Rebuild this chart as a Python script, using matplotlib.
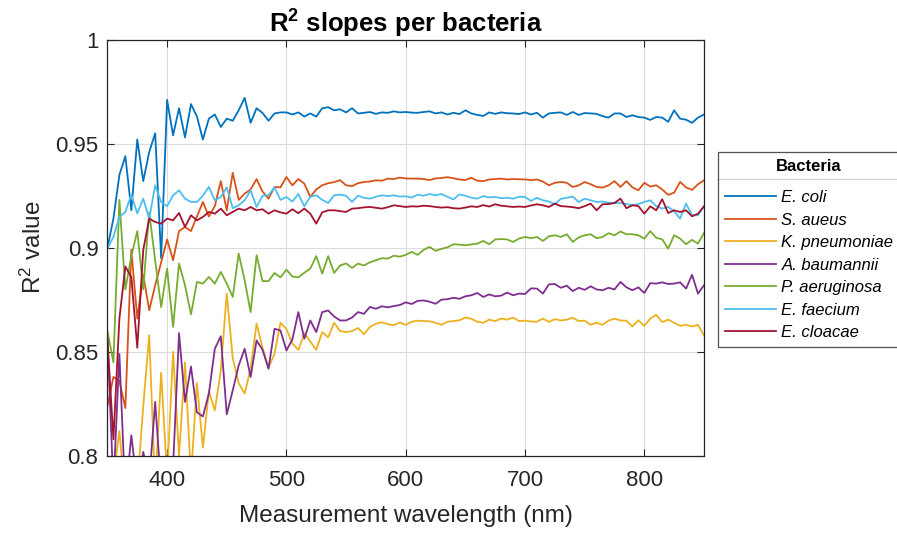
import matplotlib
matplotlib.use("Agg")
import matplotlib.pyplot as plt
import numpy as np
from matplotlib.lines import Line2D
from matplotlib.ticker import FuncFormatter

plt.rcParams["font.family"] = ["Liberation Sans", "DejaVu Sans"]
plt.rcParams["mathtext.fontset"] = "custom"
plt.rcParams["mathtext.rm"] = "Liberation Sans"
plt.rcParams["mathtext.it"] = "Liberation Sans:italic"
plt.rcParams["mathtext.bf"] = "Liberation Sans:bold"

wavelength = np.arange(350, 855, 5)

e_coli = [
    0.900, 0.914, 0.935, 0.944, 0.918, 0.952, 0.932, 0.946, 0.955, 0.895,
    0.971, 0.954, 0.967, 0.953, 0.969, 0.963, 0.952, 0.962, 0.964, 0.958,
    0.962, 0.961, 0.966, 0.972, 0.960, 0.967,
    0.9647, 0.9610, 0.9645, 0.9650, 0.9650, 0.9640, 0.9650, 0.9630, 0.9645, 0.9630,
    0.9670, 0.9675, 0.9660, 0.9665, 0.9650, 0.9670, 0.9645, 0.9648, 0.9652, 0.9643,
    0.9650, 0.9648, 0.9655, 0.9650, 0.9652, 0.9649,
    0.9648, 0.9652, 0.9655, 0.9645, 0.9650, 0.9640, 0.9648, 0.9642, 0.9660, 0.9645,
    0.9638, 0.9633, 0.9650, 0.9643, 0.9650, 0.9646, 0.9645, 0.9642, 0.9650, 0.9640,
    0.9648, 0.9625, 0.9645, 0.9648,
    0.9650, 0.9638, 0.9652, 0.9638, 0.9647, 0.9645, 0.9643, 0.9632, 0.9625, 0.9645,
    0.9645, 0.9628, 0.9636, 0.9628, 0.9625, 0.9614, 0.9628, 0.9625, 0.9605, 0.9660,
    0.9620, 0.9615, 0.9600, 0.9625, 0.9640,
]
s_aureus = [
    0.824, 0.838, 0.836, 0.823, 0.899, 0.866, 0.887, 0.870, 0.882, 0.893,
    0.904, 0.894, 0.908, 0.910, 0.908, 0.915, 0.922, 0.915, 0.920, 0.932,
    0.918, 0.936, 0.923, 0.926, 0.928, 0.933,
    0.927, 0.9236, 0.9292, 0.9290, 0.934, 0.930, 0.933, 0.9308, 0.9244, 0.928,
    0.930, 0.931, 0.9315, 0.9325, 0.930, 0.9296, 0.9310, 0.9316, 0.9318, 0.9324,
    0.9322, 0.9332, 0.9330, 0.9337, 0.9333, 0.9332,
    0.9332, 0.9330, 0.9325, 0.9333, 0.9335, 0.9339, 0.9334, 0.9328, 0.9325, 0.9336,
    0.9322, 0.9320, 0.9328, 0.9330, 0.9332, 0.9328, 0.9330, 0.9329, 0.9328, 0.9325,
    0.9328, 0.9318, 0.9300, 0.9312,
    0.9316, 0.9312, 0.9292, 0.9300, 0.9316, 0.9305, 0.9292, 0.9289, 0.9300, 0.9320,
    0.9292, 0.9320, 0.9290, 0.9276, 0.9312, 0.9294, 0.9300, 0.9280, 0.9254, 0.9265,
    0.9316, 0.9290, 0.9278, 0.9305, 0.9324,
]
k_pneumoniae = [
    0.785, 0.790, 0.812, 0.780, 0.790, 0.785, 0.824, 0.858, 0.785, 0.840,
    0.790, 0.850, 0.800, 0.845, 0.790, 0.835, 0.804, 0.831, 0.822, 0.841,
    0.878, 0.847, 0.835, 0.830, 0.842, 0.8636,
    0.8520, 0.8425, 0.8490, 0.8640, 0.8610, 0.8540, 0.8510, 0.8590, 0.8550, 0.8510,
    0.8595, 0.8570, 0.8640, 0.8600, 0.8595, 0.8600, 0.8615, 0.8585, 0.8620, 0.8635,
    0.8642, 0.8633, 0.8628, 0.8641, 0.8630, 0.8645,
    0.8650, 0.8648, 0.8647, 0.8640, 0.8630, 0.8645, 0.8648, 0.8652, 0.8665, 0.8659,
    0.8645, 0.8640, 0.8655, 0.8648, 0.8660, 0.8655, 0.8665, 0.8648, 0.8650, 0.8646,
    0.8645, 0.8660, 0.8644, 0.8657,
    0.8651, 0.8655, 0.8664, 0.8648, 0.8650, 0.8630, 0.8640, 0.8630, 0.8650, 0.8660,
    0.8651, 0.8650, 0.8622, 0.8652, 0.8625, 0.8660, 0.8678, 0.8643, 0.8655, 0.8640,
    0.8625, 0.8630, 0.8622, 0.8630, 0.8579,
]
a_baumannii = [
    0.856, 0.785, 0.849, 0.780, 0.810, 0.785, 0.802, 0.788, 0.826, 0.785,
    0.800, 0.795, 0.859, 0.826, 0.843, 0.821, 0.819, 0.830, 0.8515, 0.8575,
    0.820, 0.8315, 0.8435, 0.8515, 0.838, 0.8555,
    0.8510, 0.8419, 0.8611, 0.8603, 0.8507, 0.8560, 0.8691, 0.8563, 0.8651, 0.8595,
    0.8691, 0.8699, 0.8670, 0.8651, 0.8651, 0.8665, 0.8691, 0.8683, 0.8716, 0.8707,
    0.8719, 0.8714, 0.8720, 0.8725, 0.8738, 0.8730,
    0.8745, 0.8747, 0.8741, 0.8731, 0.8751, 0.8753, 0.8760, 0.8755, 0.8767, 0.8772,
    0.8783, 0.8764, 0.8776, 0.8767, 0.8770, 0.8785, 0.8772, 0.8780, 0.8778, 0.8805,
    0.8804, 0.8780, 0.8824, 0.8826,
    0.8808, 0.8818, 0.8792, 0.8808, 0.8798, 0.8815, 0.8800, 0.8796, 0.8808, 0.8800,
    0.8836, 0.8810, 0.8796, 0.8810, 0.8783, 0.8830, 0.8828, 0.8834, 0.8826, 0.8828,
    0.8834, 0.8804, 0.8870, 0.8780, 0.8820,
]
p_aeruginosa = [
    0.860, 0.845, 0.923, 0.880, 0.896, 0.908, 0.880, 0.917, 0.894, 0.8715,
    0.890, 0.862, 0.8924, 0.882, 0.868, 0.8836, 0.8828, 0.886, 0.8828, 0.8884,
    0.8828, 0.8764, 0.8972, 0.8844, 0.8691, 0.8964,
    0.8840, 0.8840, 0.8879, 0.8858, 0.8895, 0.8862, 0.8858, 0.8880, 0.8900, 0.8960,
    0.8876, 0.8960, 0.8879, 0.8915, 0.8925, 0.8903, 0.8924, 0.8915, 0.8930, 0.8940,
    0.8950, 0.8948, 0.8962, 0.8957, 0.8966, 0.8980,
    0.8966, 0.8990, 0.9004, 0.8985, 0.8995, 0.9002, 0.9017, 0.9015, 0.9012, 0.9016,
    0.9020, 0.9033, 0.9017, 0.9040, 0.9042, 0.9040, 0.9028, 0.9044, 0.9052, 0.9046,
    0.9052, 0.9033, 0.9055, 0.9060,
    0.9052, 0.9065, 0.9028, 0.9050, 0.9060, 0.9065, 0.9046, 0.9052, 0.9070, 0.9060,
    0.9078, 0.9065, 0.9065, 0.9060, 0.9044, 0.9080, 0.9048, 0.9040, 0.8996, 0.9060,
    0.9044, 0.9017, 0.9038, 0.9020, 0.9071,
]
e_faecium = [
    0.8996, 0.9052, 0.9148, 0.9172, 0.9255, 0.9165, 0.9236, 0.9140, 0.9300, 0.9220,
    0.9200, 0.9252, 0.9276, 0.9236, 0.9220, 0.9220, 0.9250, 0.9292, 0.9228, 0.9244,
    0.9290, 0.9190, 0.9204, 0.9228, 0.9276, 0.9196,
    0.9250, 0.9252, 0.9290, 0.9230, 0.9244, 0.9222, 0.9258, 0.9199, 0.9245, 0.9252,
    0.9230, 0.9215, 0.9252, 0.9255, 0.9250, 0.9220, 0.9250, 0.9240, 0.9236, 0.9245,
    0.9252, 0.9248, 0.9252, 0.9246, 0.9247, 0.9241,
    0.9255, 0.9250, 0.9258, 0.9252, 0.9258, 0.9245, 0.9232, 0.9256, 0.9250, 0.9240,
    0.9236, 0.9248, 0.9242, 0.9244, 0.9238, 0.9240, 0.9236, 0.9245, 0.9244, 0.9225,
    0.9240, 0.9228, 0.9222, 0.9209,
    0.9235, 0.9240, 0.9246, 0.9220, 0.9236, 0.9228, 0.9220, 0.9222, 0.9216, 0.9215,
    0.9215, 0.9210, 0.9204, 0.9210, 0.9220, 0.9228, 0.9200, 0.9188, 0.9196, 0.9175,
    0.9140, 0.9212, 0.9156, 0.9156, 0.9199,
]
e_cloacae = [
    0.856, 0.808, 0.866, 0.891, 0.886, 0.852, 0.899, 0.914, 0.9124, 0.9116,
    0.914, 0.9132, 0.9167, 0.910, 0.9156, 0.9132, 0.9148, 0.9172, 0.9164, 0.9188,
    0.9156, 0.9172, 0.9188, 0.918, 0.9196, 0.918,
    0.9185, 0.9164, 0.9180, 0.9170, 0.9164, 0.9185, 0.9166, 0.9188, 0.9164, 0.9116,
    0.9170, 0.9180, 0.9180, 0.9176, 0.9172, 0.9188, 0.9190, 0.9194, 0.9196, 0.9192,
    0.9188, 0.9195, 0.9204, 0.9200, 0.9196, 0.9199,
    0.9198, 0.9202, 0.9200, 0.9196, 0.9193, 0.9195, 0.9190, 0.9188, 0.9193, 0.9199,
    0.9196, 0.9205, 0.9198, 0.9209, 0.9202, 0.9199, 0.9196, 0.9198, 0.9196, 0.9203,
    0.9209, 0.9204, 0.9196, 0.9212,
    0.9200, 0.9198, 0.9195, 0.9190, 0.9200, 0.9212, 0.9180, 0.9209, 0.9210, 0.9215,
    0.9236, 0.9190, 0.9204, 0.9200, 0.9164, 0.9199, 0.9180, 0.9233, 0.9167, 0.9180,
    0.9172, 0.9180, 0.9151, 0.9164, 0.9199,
]

labels = ["E. coli", "S. aueus", "K. pneumoniae", "A. baumannii",
          "P. aeruginosa", "E. faecium", "E. cloacae"]
series = [e_coli, s_aureus, k_pneumoniae, a_baumannii,
          p_aeruginosa, e_faecium, e_cloacae]
colors = ["#0072BD", "#D95319", "#EDB120", "#7E2F8E",
          "#77AC30", "#4DBEEE", "#A2142F"]

fig = plt.figure(figsize=(8.97, 5.34), dpi=100)
ax = fig.add_axes([0.1198, 0.146, 0.665, 0.780])

for values, label, color in zip(series, labels, colors):
    ax.plot(wavelength, values, color=color, lw=1.3, label=label)

ax.set_xlim(350, 850)
ax.set_ylim(0.8, 1.0)
ax.set_xticks([400, 500, 600, 700, 800])
ax.set_yticks([0.8, 0.85, 0.9, 0.95, 1.0])
ax.yaxis.set_major_formatter(FuncFormatter(lambda v, _: f"{v:g}"))
ax.grid(True, color="#dcdcdc", lw=0.8)
ax.set_axisbelow(True)
ax.tick_params(direction="in", top=True, right=True, length=5,
               labelsize=16, colors="#262626")
ax.tick_params(axis="x", pad=10)
ax.tick_params(axis="y", pad=6.5)
for spine in ax.spines.values():
    spine.set_color("#262626")
    spine.set_linewidth(0.9)

ax.set_xlabel("Measurement wavelength (nm)", fontsize=17.5, color="#262626",
              labelpad=10)
ax.set_ylabel("R$^{2}$ value", fontsize=17.5, color="#262626", labelpad=7)
ax.set_title(r"R$^{\mathbf{2}}$ slopes per bacteria", fontsize=18.5,
             fontweight="bold", pad=5)

leg = fig.legend(
    loc="upper left",
    bbox_to_anchor=(718 / 897, 382 / 534),
    borderaxespad=0,
    fontsize=12,
    title="Bacteria",
    title_fontproperties={"weight": "bold", "size": 12},
    frameon=True,
    fancybox=False,
    edgecolor="#262626",
    handlelength=3.05,
    handletextpad=0.35,
    labelspacing=0.45,
    borderpad=0.4,
)
leg.get_frame().set_linewidth(0.9)
for text in leg.get_texts():
    text.set_fontstyle("italic")
# more room between the legend title and its entries
leg._legend_box.sep = 12

# separator under the legend title
renderer = fig.canvas.get_renderer()
fig.canvas.draw()
frame_box = leg.get_frame().get_window_extent(renderer)
title_box = leg.get_title().get_window_extent(renderer)
sep_y = title_box.y0 - 5
fig.add_artist(Line2D([frame_box.x0, frame_box.x1], [sep_y, sep_y],
                      transform=None, color="#262626", lw=0.9))

fig.savefig("out.png", dpi=100)
